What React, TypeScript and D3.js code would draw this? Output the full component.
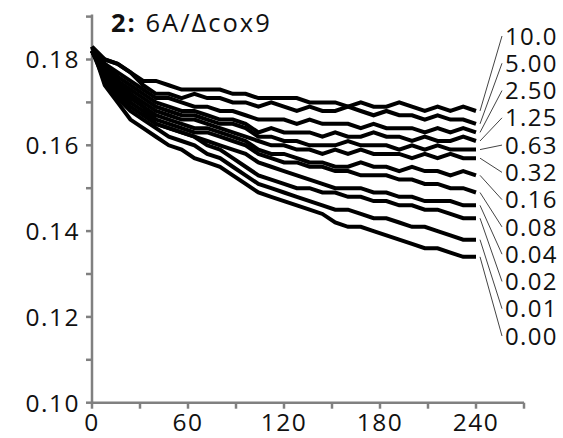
import * as d3 from "d3";

const W = 563;
const H = 438;

// minutes
const times = [0, 8, 16, 24, 32, 40, 48, 56, 64, 72, 80, 88, 96, 104, 112, 120, 128, 136, 144, 152, 160, 168, 176, 184, 192, 200, 208, 216, 224, 232, 240];

const concentrations = ["10.0", "5.00", "2.50", "1.25", "0.63", "0.32", "0.16", "0.08", "0.04", "0.02", "0.01", "0.00"];

const s100 = [0.183, 0.180, 0.179, 0.177, 0.175, 0.175, 0.174, 0.173, 0.173, 0.173, 0.173, 0.172, 0.172, 0.171, 0.171, 0.171, 0.171, 0.170, 0.170, 0.170, 0.169, 0.170, 0.169, 0.169, 0.170, 0.169, 0.168, 0.169, 0.168, 0.169, 0.168];
const s500 = [0.182, 0.180, 0.179, 0.177, 0.174, 0.172, 0.172, 0.171, 0.172, 0.171, 0.171, 0.170, 0.170, 0.169, 0.170, 0.169, 0.168, 0.169, 0.168, 0.168, 0.169, 0.168, 0.167, 0.168, 0.167, 0.167, 0.166, 0.167, 0.166, 0.166, 0.165];
const s250 = [0.182, 0.179, 0.177, 0.175, 0.173, 0.171, 0.171, 0.170, 0.169, 0.169, 0.168, 0.168, 0.167, 0.166, 0.166, 0.166, 0.165, 0.166, 0.165, 0.165, 0.165, 0.164, 0.165, 0.164, 0.164, 0.164, 0.163, 0.164, 0.163, 0.164, 0.163];
const s125 = [0.182, 0.179, 0.176, 0.174, 0.172, 0.170, 0.169, 0.168, 0.168, 0.167, 0.166, 0.166, 0.165, 0.163, 0.164, 0.163, 0.163, 0.163, 0.162, 0.163, 0.162, 0.162, 0.163, 0.162, 0.162, 0.161, 0.162, 0.161, 0.161, 0.162, 0.161];
const s063 = [0.182, 0.178, 0.175, 0.173, 0.171, 0.169, 0.168, 0.167, 0.167, 0.166, 0.165, 0.165, 0.164, 0.162, 0.162, 0.161, 0.161, 0.160, 0.160, 0.160, 0.161, 0.160, 0.160, 0.160, 0.159, 0.160, 0.159, 0.160, 0.159, 0.159, 0.159];
const s032 = [0.182, 0.178, 0.175, 0.172, 0.170, 0.168, 0.167, 0.166, 0.166, 0.165, 0.164, 0.163, 0.162, 0.161, 0.160, 0.160, 0.159, 0.159, 0.158, 0.159, 0.158, 0.159, 0.158, 0.158, 0.158, 0.157, 0.158, 0.157, 0.158, 0.157, 0.157];
const s016 = [0.182, 0.177, 0.174, 0.172, 0.169, 0.167, 0.166, 0.165, 0.164, 0.164, 0.163, 0.162, 0.161, 0.159, 0.158, 0.158, 0.157, 0.156, 0.156, 0.155, 0.155, 0.156, 0.155, 0.155, 0.154, 0.155, 0.154, 0.154, 0.153, 0.154, 0.153];
const s008 = [0.182, 0.177, 0.174, 0.171, 0.169, 0.166, 0.165, 0.164, 0.163, 0.163, 0.162, 0.161, 0.160, 0.158, 0.157, 0.156, 0.156, 0.155, 0.155, 0.154, 0.154, 0.153, 0.153, 0.153, 0.152, 0.152, 0.151, 0.151, 0.150, 0.150, 0.149];
const s004 = [0.182, 0.176, 0.173, 0.170, 0.168, 0.165, 0.164, 0.163, 0.162, 0.161, 0.160, 0.159, 0.158, 0.156, 0.155, 0.154, 0.153, 0.152, 0.151, 0.150, 0.150, 0.150, 0.149, 0.149, 0.148, 0.148, 0.147, 0.147, 0.147, 0.146, 0.146];
const s002 = [0.182, 0.176, 0.172, 0.169, 0.167, 0.165, 0.164, 0.163, 0.162, 0.160, 0.159, 0.157, 0.155, 0.153, 0.152, 0.151, 0.150, 0.150, 0.149, 0.149, 0.148, 0.148, 0.147, 0.147, 0.146, 0.146, 0.145, 0.145, 0.144, 0.143, 0.143];
const s001 = [0.182, 0.175, 0.171, 0.168, 0.166, 0.164, 0.162, 0.161, 0.160, 0.158, 0.157, 0.155, 0.153, 0.151, 0.150, 0.149, 0.148, 0.147, 0.146, 0.145, 0.145, 0.144, 0.143, 0.143, 0.142, 0.141, 0.141, 0.140, 0.139, 0.138, 0.138];
const s000 = [0.183, 0.174, 0.170, 0.166, 0.164, 0.162, 0.160, 0.159, 0.157, 0.156, 0.155, 0.153, 0.151, 0.149, 0.148, 0.147, 0.146, 0.145, 0.144, 0.142, 0.141, 0.141, 0.140, 0.139, 0.138, 0.137, 0.136, 0.136, 0.135, 0.134, 0.134];

const series = [s100, s500, s250, s125, s063, s032, s016, s008, s004, s002, s001, s000];

const xTicks = [0, 30, 60, 90, 120, 150, 180, 210, 240, 270];
const xLabels = [0, 60, 120, 180, 240];
const yTicks = [0.1, 0.11, 0.12, 0.13, 0.14, 0.15, 0.16, 0.17, 0.18, 0.19];
const yLabels = [0.1, 0.12, 0.14, 0.16, 0.18];

const FONT = "'Open Sans', sans-serif";
const AXIS = "#808080";

export default function App() {
  const x = d3.scaleLinear().domain([0, 270]).range([92, 524]);
  const y = d3.scaleLinear().domain([0.1, 0.19]).range([402.7, 16.6]);
  const labelY = d3.scalePoint<string>().domain(concentrations).range([36, 336]);

  const line = d3
    .line<number>()
    .x((_, i) => x(times[i]))
    .y((d) => y(d));

  const lastT = times[times.length - 1];

  return (
    <svg width={W} height={H} style={{ position: "absolute", left: 0, top: 0, background: "#fff" }}>
      <text x={111} y={32} fontFamily={FONT} fontSize={25.5} letterSpacing={2} fill="#111">
        <tspan fontWeight="bold">2:</tspan>
        <tspan> 6A/Δcox9</tspan>
      </text>

      {/* axes */}
      <g stroke={AXIS} strokeWidth={2.5} fill="none">
        <line x1={x(0)} x2={x(0)} y1={y(0.1)} y2={y(0.19) - 2} />
        <line x1={x(0)} x2={x(270)} y1={y(0.1)} y2={y(0.1)} />
        {yTicks.map((t) => (
          <line key={"yt" + t} x1={x(0) - 6} x2={x(0)} y1={y(t)} y2={y(t)} />
        ))}
        {xTicks.map((t) => (
          <line key={"xt" + t} x1={x(t)} x2={x(t)} y1={y(0.1)} y2={y(0.1) + 6} />
        ))}
      </g>
      <g fontFamily={FONT} fontSize={24.5} letterSpacing={1.5} fill="#111">
        {yLabels.map((t) => (
          <text key={"yl" + t} x={80} y={y(t)} dy="0.36em" textAnchor="end">
            {d3.format(".2f")(t)}
          </text>
        ))}
        {xLabels.map((t) => (
          <text key={"xl" + t} x={x(t)} y={431} textAnchor="middle">
            {t}
          </text>
        ))}
      </g>

      {/* series */}
      <g fill="none" stroke="#000" strokeWidth={4}>
        {series.map((s, i) => (
          <path key={concentrations[i]} d={line(s) ?? ""} />
        ))}
      </g>

      {/* leaders and labels */}
      <g stroke="#444" strokeWidth={1}>
        {series.map((s, i) => (
          <line
            key={"ld" + i}
            x1={x(lastT) + 4}
            y1={y(s[s.length - 1])}
            x2={502}
            y2={labelY(concentrations[i]) ?? 0}
          />
        ))}
      </g>
      <g fontFamily={FONT} fontSize={24} letterSpacing={1.3} fill="#111">
        {concentrations.map((c) => (
          <text key={"cl" + c} x={505} y={labelY(c)} dy="0.36em">
            {c}
          </text>
        ))}
      </g>
    </svg>
  );
}
